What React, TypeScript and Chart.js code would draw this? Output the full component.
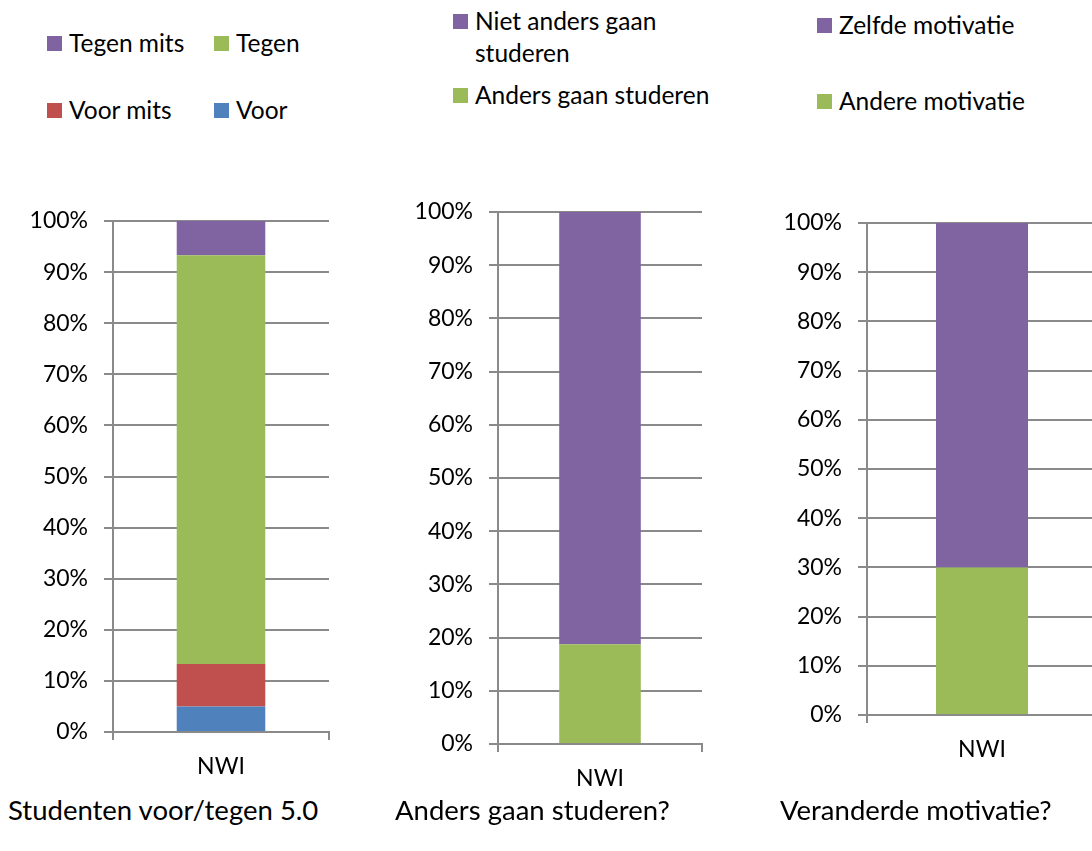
import React, { useEffect, useRef } from "react";
import { Chart, registerables } from "chart.js";

Chart.register(...registerables);

const categories = ["NWI"];
const yTickStep = 10;

const chart1Series = ["Voor", "Voor mits", "Tegen", "Tegen mits"];
const chart1Values = [5, 8.3, 80, 6.7];
const chart1Colors = ["#4F81BD", "#C0504D", "#9BBB59", "#8064A2"];
const chart1Title = "Studenten voor/tegen 5.0";

const chart2Series = ["Anders gaan studeren", "Niet anders gaan studeren"];
const chart2Values = [18.75, 81.25];
const chart2Colors = ["#9BBB59", "#8064A2"];
const chart2Title = "Anders gaan studeren?";

const chart3Series = ["Andere motivatie", "Zelfde motivatie"];
const chart3Values = [30, 70];
const chart3Colors = ["#9BBB59", "#8064A2"];
const chart3Title = "Veranderde motivatie?";

const FONT = "Lato";
const GRID = "#8a8a8a";

type BoxProps = {
  series: string[];
  values: number[];
  colors: string[];
  left: number;
  top: number;
  width: number;
  height: number;
  plotLeft: number;
  plotTop: number;
  plotRight: number;
  xHeight: number;
  barPct: number;
};

function ChartBox(p: BoxProps) {
  const ref = useRef<HTMLCanvasElement | null>(null);
  useEffect(() => {
    if (!ref.current) return;
    const chart = new Chart(ref.current, {
      type: "bar",
      data: {
        labels: categories,
        datasets: p.series.map((s, i) => ({
          label: s,
          data: [p.values[i]],
          backgroundColor: p.colors[i],
          borderWidth: 0,
          categoryPercentage: 1,
          barPercentage: p.barPct,
        })),
      },
      options: {
        responsive: false,
        animation: false,
        layout: {
          padding: { left: 0, top: p.plotTop, right: p.width - p.plotRight, bottom: 0 },
        },
        plugins: { legend: { display: false }, tooltip: { enabled: false }, title: { display: false } },
        scales: {
          x: {
            stacked: true,
            afterFit: (s: any) => {
              s.height = p.xHeight;
            },
            grid: {
              offset: true,
              drawOnChartArea: false,
              drawTicks: true,
              tickLength: 8,
              color: GRID,
              lineWidth: 2,
            },
            border: { display: true, color: GRID, width: 2 },
            ticks: { color: "#000", font: { family: FONT, size: 23 }, padding: 13 },
          },
          y: {
            stacked: true,
            min: 0,
            max: 100,
            afterFit: (s: any) => {
              s.width = p.plotLeft;
            },
            grid: { color: GRID, lineWidth: 2, tickLength: 9, drawTicks: true },
            border: { display: true, color: GRID, width: 2 },
            ticks: {
              stepSize: yTickStep,
              color: "#000",
              font: { family: FONT, size: 23 },
              padding: 16,
              callback: (v: any) => v + "%",
            },
          },
        },
      },
    });
    return () => chart.destroy();
  }, []);
  return (
    <canvas
      ref={ref}
      width={p.width}
      height={p.height}
      style={{ position: "absolute", left: p.left, top: p.top, width: p.width, height: p.height }}
    />
  );
}

type LegendItem = { label: string; color: string; x: number; y: number; w?: number };

function Legend({ items }: { items: LegendItem[] }) {
  return (
    <>
      {items.map((it, i) => (
        <div
          key={i}
          style={{
            position: "absolute",
            left: it.x,
            top: it.y - 16,
            display: "flex",
            alignItems: "flex-start",
            fontFamily: FONT,
            fontSize: 24.5,
            lineHeight: "32px",
            color: "#000",
          }}
        >
          <div style={{ width: 15, height: 15, background: it.color, marginTop: 9, marginRight: 7, flex: "none" }} />
          <div style={{ width: it.w, whiteSpace: it.w ? "normal" : "nowrap" }}>{it.label}</div>
        </div>
      ))}
    </>
  );
}

function Title({ text, x, y }: { text: string; x: number; y: number }) {
  return (
    <div
      style={{
        position: "absolute",
        left: x,
        top: y - 17,
        fontFamily: FONT,
        fontSize: 27.5,
        lineHeight: "34px",
        whiteSpace: "nowrap",
        color: "#000",
      }}
    >
      {text}
    </div>
  );
}

export default function App() {
  const l1 = [...chart1Series].reverse();
  const c1 = [...chart1Colors].reverse();
  const l2 = [...chart2Series].reverse();
  const c2 = [...chart2Colors].reverse();
  const l3 = [...chart3Series].reverse();
  const c3 = [...chart3Colors].reverse();
  return (
    <div
      style={{
        position: "fixed",
        left: 0,
        top: 0,
        width: 1092,
        height: 851,
        overflow: "hidden",
        background: "#fff",
      }}
    >
      <Legend
        items={[
          { label: l1[0], color: c1[0], x: 47, y: 43 },
          { label: l1[1], color: c1[1], x: 214, y: 43 },
          { label: l1[2], color: c1[2], x: 47, y: 110 },
          { label: l1[3], color: c1[3], x: 214, y: 110 },
        ]}
      />
      <Legend
        items={[
          { label: l2[0], color: c2[0], x: 453, y: 21, w: 210 },
          { label: l2[1], color: c2[1], x: 453, y: 95 },
        ]}
      />
      <Legend
        items={[
          { label: l3[0], color: c3[0], x: 817, y: 25 },
          { label: l3[1], color: c3[1], x: 817, y: 101 },
        ]}
      />
      <ChartBox
        series={chart1Series}
        values={chart1Values}
        colors={chart1Colors}
        left={0}
        top={190}
        width={345}
        height={600}
        plotLeft={113}
        plotTop={31}
        plotRight={329}
        xHeight={58}
        barPct={0.41}
      />
      <ChartBox
        series={chart2Series}
        values={chart2Values}
        colors={chart2Colors}
        left={380}
        top={180}
        width={340}
        height={620}
        plotLeft={118}
        plotTop={32}
        plotRight={322}
        xHeight={56}
        barPct={0.4}
      />
      <ChartBox
        series={chart3Series}
        values={chart3Values}
        colors={chart3Colors}
        left={750}
        top={190}
        width={352}
        height={580}
        plotLeft={117}
        plotTop={33}
        plotRight={347}
        xHeight={55}
        barPct={0.4}
      />
      <Title text={chart1Title} x={8} y={810} />
      <Title text={chart2Title} x={395} y={810} />
      <Title text={chart3Title} x={780} y={810} />
    </div>
  );
}
